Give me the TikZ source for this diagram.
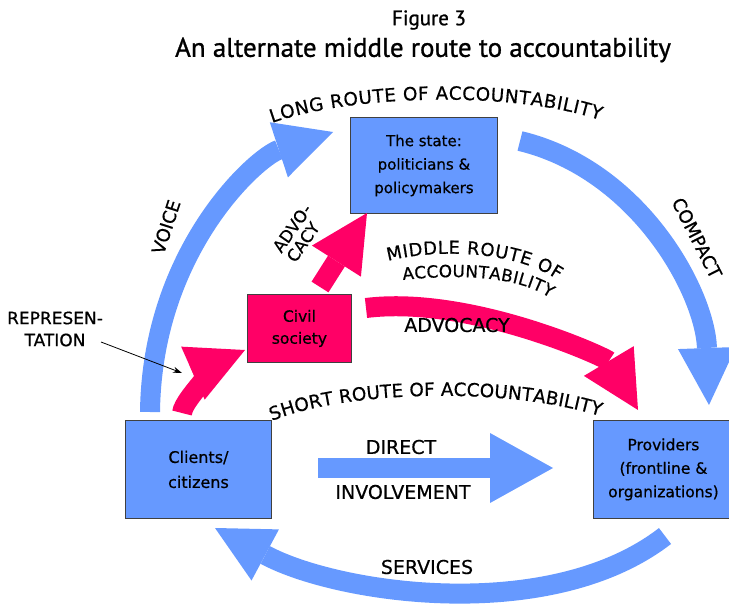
\documentclass[tikz,border=0pt]{standalone}
\usepackage{fontspec}
\setmainfont{DejaVu Sans}[FakeBold=0.6]
\newfontfamily\titlefont{PT Sans}[FakeBold=1]
\usetikzlibrary{arrows.meta,decorations.text}
\definecolor{routeblue}{HTML}{6699FF}
\definecolor{routepink}{HTML}{FF0066}
\newcommand\curvefont{\fontsize{18.3}{18.3}\selectfont}
\newcommand\midfont{\fontsize{17.8}{17.8}\selectfont}
\newcommand\accfont{\fontsize{16.8}{16.8}\selectfont}
\begin{document}
\begin{tikzpicture}[x=1pt,y=-1pt,
  box/.style={draw=black!75, line width=0.9pt, anchor=north west, align=center, inner sep=0pt},
  boxtext/.style={font=\fontsize{15}{23.5}\selectfont},
  bigarrow/.style={line width=20pt, -{Triangle[width=58pt 0 0,length=57pt 0 0,line width=0pt]}},
  lbl/.style={font=\fontsize{19}{19}\selectfont, inner sep=0pt},
  curved/.style={decorate, decoration={text along path, text align={fit to path}, text={#1}}}
]
\useasboundingbox (0,0) rectangle (729,607);

% titles
\node[font=\titlefont\fontsize{21}{21}\selectfont, inner sep=0pt] (fig) at (429,20) {Figure 3};
\node[font=\titlefont\fontsize{27}{27}\selectfont, inner sep=0pt] (title) at (423,50) {An alternate middle route to accountability};

% boxes
\node[box, boxtext, fill=routeblue, minimum width=147pt, minimum height=96pt] (state) at (350,117) {The state:\\politicians \&\\policymakers};
\node[box, fill=routepink, minimum width=104pt, minimum height=68pt, font=\fontsize{15.5}{22}\selectfont] (civil) at (247,294) {Civil\\society};
\node[box, fill=routeblue, minimum width=146pt, minimum height=98pt, font=\fontsize{16}{25}\selectfont] (clients) at (125,420) {Clients/\\citizens};
\node[box, fill=routeblue, minimum width=140pt, minimum height=98pt, font=\fontsize{15.5}{23.5}\selectfont] (providers) at (593,420) {Providers\\(frontline \&\\organizations)};

% arrow end points
\coordinate (v0) at (150,412);
\coordinate (v1) at (333,132);
\coordinate (c0) at (520,141);
\coordinate (c1) at (709,405);
\coordinate (s0) at (665,536);
\coordinate (s1) at (215,528);
\coordinate (d0) at (318,468);
\coordinate (d1) at (553,468);
\coordinate (r0) at (182,413);
\coordinate (r1) at (245,350);
\coordinate (a0) at (320,287);
\coordinate (a1) at (367,213);
\coordinate (m0) at (366,308);
\coordinate (m1) at (638,410);

% blue arrows
\draw[bigarrow, routeblue] (v0) .. controls (152,250) and (257,157) .. (v1);
\draw[bigarrow, routeblue] (c0) .. controls (640,170) and (705,293) .. (c1);
\draw[bigarrow, routeblue] (s0) .. controls (550,625) and (338,594) .. (s1);
\draw[routeblue, line width=20pt, -{Triangle[width=70pt 0 0,length=63pt 0 0,line width=0pt]}] (d0) -- (d1);

% pink arrows
\draw[bigarrow, routepink] (r0) .. controls (184,395) and (236,354) .. (r1);
\draw[bigarrow, routepink] (a0) -- (a1);
\draw[bigarrow, routepink] (m0) .. controls (470,295) and (607,358) .. (m1);

% curved labels
\path[curved={|\curvefont|LONG ROUTE OF ACCOUNTABILITY}] (272,123) .. controls (350,95) and (510,90) .. (600,120);
\path[curved={|\curvefont|SHORT ROUTE OF ACCOUNTABILITY}] (272,421) .. controls (340,392) and (500,385) .. (600,416);
\path[curved={|\midfont|MIDDLE ROUTE OF}] (388,261) .. controls (430,250) and (510,248) .. (558,280);
\path[curved={|\accfont|ACCOUNTABILITY}] (403,280) .. controls (450,275) and (515,274) .. (550,298);

% straight labels
\node[lbl, rotate=72, font=\fontsize{18}{18}\selectfont] (voice) at (166,227) {VOICE};
\node[lbl, rotate=-63, font=\fontsize{18}{18}\selectfont] (compact) at (697,238) {COMPACT};
\node[lbl, rotate=55, align=left, font=\fontsize{16.5}{17}\selectfont] (advo) at (299,233) {ADVO-\\CACY};
\node[lbl] (advocacy) at (457,325) {ADVOCACY};
\node[lbl] (direct) at (401,447) {DIRECT};
\node[lbl] (involve) at (403,492) {INVOLVEMENT};
\node[lbl] (services) at (427,567) {SERVICES};
\node[lbl, align=center, font=\fontsize{17}{22}\selectfont] (rep) at (55,329) {REPRESEN-\\TATION};

% representation pointer
\coordinate (p0) at (101,342);
\coordinate (p1) at (182,373);
\draw[line width=0.8pt, -{Stealth[length=9pt,width=6pt]}] (p0) -- (p1);
\end{tikzpicture}
\end{document}
